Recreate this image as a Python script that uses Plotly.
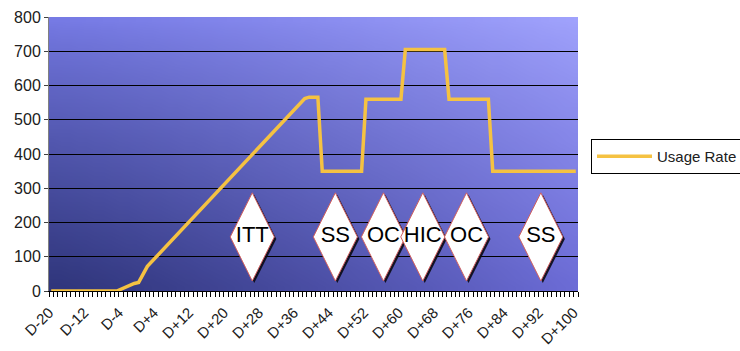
import base64
import struct
import zlib

import plotly.graph_objects as go

# Usage rate by day (vertices of the plotted line)
days = [-20, -5, -1, 0, 2, 38, 39, 41, 42, 51, 52, 60, 61, 70, 71, 80, 81, 100]
usage = [0, 0, 22, 25, 72, 562, 566, 566, 350, 350, 560, 560, 705, 705, 560, 560, 350, 350]

# Phase markers
phase_labels = ["ITT", "SS", "OC", "HIC", "OC", "SS"]
phase_days = [26, 45, 56, 65, 75, 92]
phase_levels = [158, 158, 158, 158, 158, 158]

# Category axis labels
label_days = list(range(-20, 101, 8))
all_days = list(range(-20, 101))


def day_label(d):
    return "D%+d" % d


def gradient_png(w, h, corners, gamma=1.0):
    """Four-corner gradient encoded as a PNG data URI."""
    tl, tr, bl, br = corners
    rows = []
    for j in range(h):
        v = (j / (h - 1)) ** gamma
        row = bytearray(b"\x00")
        for i in range(w):
            u = (i / (w - 1)) ** (1 / gamma)
            for k in range(3):
                top = tl[k] * (1 - u) + tr[k] * u
                bot = bl[k] * (1 - u) + br[k] * u
                row.append(int(round(top * (1 - v) + bot * v)))
        rows.append(bytes(row))
    raw = b"".join(rows)

    def chunk(tag, data):
        body = tag + data
        return struct.pack(">I", len(data)) + body + struct.pack(">I", zlib.crc32(body) & 0xFFFFFFFF)

    png = (b"\x89PNG\r\n\x1a\n"
           + chunk(b"IHDR", struct.pack(">IIBBBBB", w, h, 8, 2, 0, 0, 0))
           + chunk(b"IDAT", zlib.compress(raw, 9))
           + chunk(b"IEND", b""))
    return "data:image/png;base64," + base64.b64encode(png).decode()


bg = gradient_png(64, 32, [(118, 122, 228), (160, 162, 252), (48, 54, 124), (108, 108, 214)], gamma=0.85)

fig = go.Figure()

fig.add_trace(go.Scatter(
    x=days, y=usage, mode="lines", name="Usage Rate",
    line=dict(color="#f5c242", width=3.5),
))

# drop shadow behind the phase diamonds
fig.add_trace(go.Scatter(
    x=[d + 0.45 for d in phase_days], y=[v - 6 for v in phase_levels],
    mode="markers", showlegend=False, hoverinfo="skip",
    marker=dict(symbol="diamond-tall", size=63, color="rgba(10,10,20,0.9)", line=dict(width=0)),
))
fig.add_trace(go.Scatter(
    x=phase_days, y=phase_levels, text=phase_labels,
    mode="markers+text", textposition="middle center", showlegend=False,
    textfont=dict(family="Liberation Sans, Arial, sans-serif", size=22, color="black"),
    marker=dict(symbol="diamond-tall", size=63, color="white", line=dict(color="#d06060", width=1)),
))

tickvals = [d - 0.5 for d in all_days] + [100.5]
ticktext = [day_label(d) if d in label_days else "" for d in all_days] + [""]

fig.update_layout(
    width=740, height=351,
    margin=dict(l=49, r=162, t=17, b=60, autoexpand=False),
    paper_bgcolor="white",
    plot_bgcolor="rgba(0,0,0,0)",
    font=dict(family="Liberation Sans, Arial, sans-serif", size=15, color="#202020"),
    images=[dict(source=bg, xref="paper", yref="paper", x=0, y=1, sizex=1, sizey=1,
                 sizing="stretch", layer="below", xanchor="left", yanchor="top")],
    xaxis=dict(
        range=[-20.5, 100.5], tickmode="array", tickvals=tickvals, ticktext=ticktext,
        tickangle=-45, ticks="outside", ticklen=5, tickcolor="black", tickwidth=1,
        ticklabelstandoff=1,
        showline=True, linecolor="black", linewidth=1, showgrid=False, zeroline=False,
        tickfont=dict(size=15),
    ),
    yaxis=dict(
        range=[0, 800], dtick=100, tick0=0, ticks="outside", ticklen=4, tickcolor="#404040",
        showline=True, linecolor="#808080", linewidth=1,
        showgrid=True, gridcolor="black", gridwidth=1, zeroline=False,
        tickfont=dict(size=16),
    ),
    legend=dict(
        x=1.0246, y=0.555, xanchor="left", yanchor="top",
        bgcolor="white", bordercolor="black", borderwidth=1, itemwidth=55,
        font=dict(size=15, color="#202020"),
    ),
)

fig.write_html("out.html")
